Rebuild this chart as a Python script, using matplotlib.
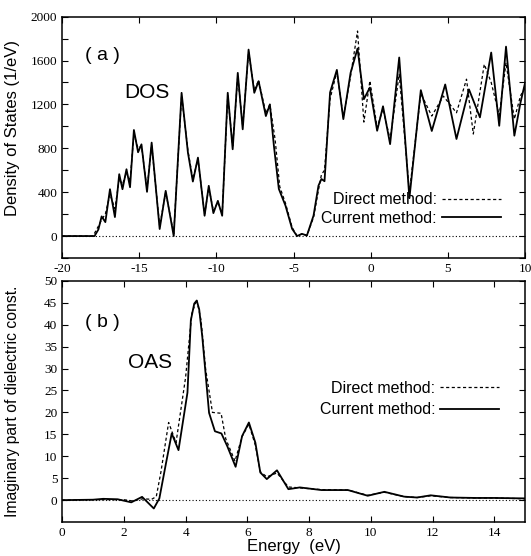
import numpy as np
import matplotlib
matplotlib.use('Agg')
import matplotlib.pyplot as plt
from matplotlib.ticker import MultipleLocator

plt.rcParams['axes.unicode_minus'] = False

# (a) DOS, current method (solid)
dos_cur_e = [-20, -17.9, -17.65, -17.44, -17.2, -16.9, -16.58, -16.3, -16.09, -15.83, -15.6,
             -15.35, -15.08, -14.86, -14.5, -14.2, -13.68, -13.29, -12.77, -12.26, -11.85,
             -11.53, -11.2, -10.77, -10.5, -10.2, -9.91, -9.63, -9.27, -8.95, -8.62, -8.3,
             -7.92, -7.55, -7.27, -6.8, -6.54, -6.28, -5.96, -5.53, -5.1, -4.78, -4.46, -4.14,
             -3.71, -3.39, -3.2, -3.0, -2.64, -2.2, -1.78, -1.31, -0.86, -0.45, -0.06, 0.41,
             0.79, 1.25, 1.84, 2.5, 3.24, 3.95, 4.82, 5.55, 6.36, 7.07, 7.8, 8.32, 8.76, 9.3,
             9.7, 10.0]
dos_cur = [0, 0, 60, 179, 127, 427, 173, 564, 427, 609, 445,
           967, 764, 836, 403, 852, 64, 412, 0, 1306, 761,
           497, 715, 185, 458, 209, 321, 185, 1306, 791, 1488, 973,
           1700, 1306, 1412, 1094, 1200, 824, 430, 278, 66, 0, 20, 5,
           187, 460, 520, 500, 1309, 1515, 1066, 1488, 1710, 1248, 1354, 960,
           1183, 838, 1628, 345, 1330, 958, 1382, 885, 1337, 1082, 1673, 1005, 1727, 915,
           1218, 1400]

# (a) DOS, direct method (dashed)
dos_dir_e = [-20, -18.0, -17.65, -17.44, -17.2, -16.9, -16.58, -16.3, -16.09, -15.83, -15.6,
             -15.35, -15.08, -14.86, -14.5, -14.2, -13.68, -13.29, -12.77, -12.26, -11.85,
             -11.53, -11.2, -10.77, -10.5, -10.2, -9.91, -9.63, -9.27, -8.95, -8.62, -8.3,
             -7.92, -7.55, -7.27, -6.8, -6.54, -6.2, -5.9, -5.53, -5.1, -4.78, -4.46, -4.14,
             -3.71, -3.39, -3.2, -3.0, -2.64, -2.2, -1.78, -1.31, -0.86, -0.45, -0.06, 0.41,
             0.79, 1.25, 1.84, 2.5, 3.24, 3.95, 4.7, 5.55, 6.2, 6.64, 7.35, 7.8, 8.32, 8.76,
             9.3, 9.7, 10.0]
dos_dir = [0, 0, 90, 150, 200, 380, 250, 520, 470, 580, 500,
           930, 800, 820, 430, 830, 90, 400, 20, 1280, 780,
           520, 700, 200, 440, 230, 310, 200, 1280, 820, 1460, 1000,
           1680, 1330, 1420, 1120, 1200, 880, 450, 300, 80, 0, 20, 5,
           170, 420, 560, 600, 1250, 1500, 1080, 1460, 1869, 1039, 1415, 990,
           1160, 880, 1475, 400, 1300, 1094, 1276, 1124, 1430, 930, 1566, 1400, 1100, 1580,
           1066, 1280, 1350]

# (b) OAS, current method (solid)
oas_cur_e = [0, 1.0, 1.33, 1.8, 2.24, 2.59, 2.97, 3.15, 3.37, 3.55, 3.77, 4.06, 4.17, 4.28,
             4.36, 4.44, 4.54, 4.76, 4.95, 5.16, 5.35, 5.62, 5.83, 6.05, 6.26, 6.42, 6.63,
             6.96, 7.33, 7.7, 8.4, 9.26, 9.9, 10.44, 11.08, 11.5, 11.94, 12.58, 13.4, 14.0, 15.0]
oas_cur = [0, 0.1, 0.3, 0.2, -0.5, 0.75, -1.9, 0.4, 8.6, 15.2, 11.4, 24.5, 41.0, 44.8,
           45.5, 43.5, 37.3, 19.9, 15.7, 15.2, 12.3, 7.6, 14.6, 17.7, 13.1, 6.3, 4.8,
           6.8, 2.5, 2.9, 2.3, 2.3, 1.0, 1.9, 0.8, 0.6, 1.1, 0.6, 0.5, 0.5, 0.4]

# (b) OAS, direct method (dashed)
oas_dir_e = [0, 1.0, 2.0, 2.3, 2.6, 2.9, 3.05, 3.2, 3.45, 3.69, 4.0, 4.2, 4.36, 4.5,
             4.65, 4.87, 5.15, 5.3, 5.6, 5.83, 6.05, 6.26, 6.42, 6.63, 6.96, 7.33,
             7.7, 8.4, 9.26, 9.9, 10.44, 11.08, 11.5, 11.94, 12.58, 13.4, 14.0, 15.0]
oas_dir = [0, 0.1, 0.1, -0.2, 0.3, 0.2, 0.8, 6.4, 17.7, 13.1, 28.0, 42.5, 45.7, 41.0,
           29.8, 20.0, 19.8, 14.0, 8.9, 14.5, 17.3, 12.5, 6.5, 5.3, 6.2, 3.0,
           2.8, 2.4, 2.3, 1.1, 1.8, 0.8, 0.6, 1.0, 0.6, 0.5, 0.5, 0.3]

dos_yticks = [0, 400, 800, 1200, 1600, 2000]
oas_yticks = [0, 5, 10, 15, 20, 25, 30, 35, 40, 45, 50]

sans = 'Liberation Sans'
serif = 'Liberation Serif'

fig = plt.figure(figsize=(5.31, 5.56), dpi=100)
ax1 = fig.add_axes([0.117, 0.536, 0.872, 0.434])
ax2 = fig.add_axes([0.117, 0.061, 0.872, 0.434])

for ax in (ax1, ax2):
    ax.axhline(0, color='black', lw=0.8, ls=(0, (1, 2)))
    ax.tick_params(direction='in', top=True, right=True, which='both', length=4, width=0.8,
                   labelsize=9.5)
    for s in ax.spines.values():
        s.set_linewidth(1.1)

ax1.plot(dos_dir_e, dos_dir, color='black', lw=0.9, ls=(0, (2.5, 2)), label='Direct method:')
ax1.plot(dos_cur_e, dos_cur, color='black', lw=1.3, label='Current method:')
ax1.set_xlim(-20, 10)
ax1.set_ylim(-200, 2000)
ax1.xaxis.set_major_locator(MultipleLocator(5))
ax1.set_yticks(dos_yticks)
ax1.yaxis.set_minor_locator(MultipleLocator(200))
ax1.set_ylabel('Density of States (1/eV)', family=sans, fontsize=12)
ax1.yaxis.set_label_coords(-0.09, 0.54)
ax1.text(0.05, 0.84, '( a )', transform=ax1.transAxes, family=sans, fontsize=14, va='center')
ax1.text(0.135, 0.685, 'DOS', transform=ax1.transAxes, family=sans, fontsize=15, va='center')
ax1.legend(loc='center right', bbox_to_anchor=(0.972, 0.203), frameon=False, markerfirst=False,
           prop={'family': sans, 'size': 11.5}, handlelength=3.7, handletextpad=0.3,
           labelspacing=0.2, borderpad=0.2)

ax2.plot(oas_dir_e, oas_dir, color='black', lw=0.9, ls=(0, (2.5, 2)), label='Direct method:')
ax2.plot(oas_cur_e, oas_cur, color='black', lw=1.3, label='Current method:')
ax2.set_xlim(0, 15)
ax2.set_ylim(-5, 50)
ax2.xaxis.set_major_locator(MultipleLocator(2))
ax2.set_yticks(oas_yticks)
ax2.set_ylabel('Imaginary part of dielectric const.', family=sans, fontsize=11.3)
ax2.yaxis.set_label_coords(-0.09, 0.5)
ax2.set_xlabel('Energy  (eV)', family=sans, fontsize=12, labelpad=0)
ax2.text(0.05, 0.826, '( b )', transform=ax2.transAxes, family=sans, fontsize=14, va='center')
ax2.text(0.142, 0.66, 'OAS', transform=ax2.transAxes, family=sans, fontsize=15, va='center')
ax2.legend(loc='center right', bbox_to_anchor=(0.968, 0.51), frameon=False, markerfirst=False,
           prop={'family': sans, 'size': 11.5}, handlelength=3.7, handletextpad=0.3,
           labelspacing=0.4, borderpad=0.2)

for ax in (ax1, ax2):
    for lab in ax.get_xticklabels() + ax.get_yticklabels():
        lab.set_family(serif)

fig.savefig('out.png', dpi=100)
